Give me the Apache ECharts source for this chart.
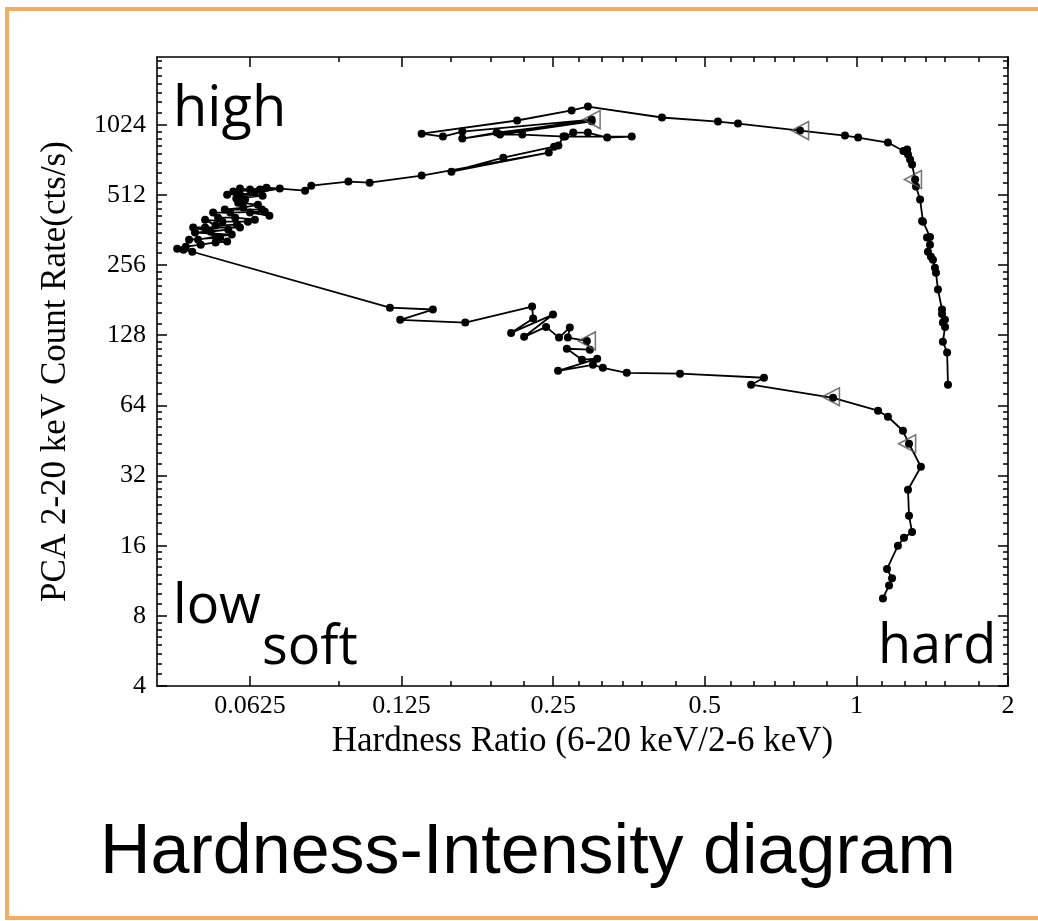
<!DOCTYPE html>
<html>
<head>
<meta charset="utf-8">
<script src="https://cdn.jsdelivr.net/npm/echarts@6/dist/echarts.min.js"></script>
<style>
  html, body { margin: 0; padding: 0; background: #fff; }
  #chart { width: 1038px; height: 921px; }
</style>
</head>
<body>
<div id="chart"></div>
<script>
// ---- data (in the order the track is drawn) ----
const hardness = [
  1.52, 1.514, 1.485, 1.50, 1.485, 1.499, 1.479, 1.479, 1.452, 1.439, 1.432, 1.419, 1.406, 1.387, 1.40, 1.381, 1.40, 1.356, 1.35, 1.338, 1.313, 1.308, 1.29, 1.278, 1.266, 1.261, 1.24, 1.155, 1.008, 0.949, 0.773, 0.582, 0.531, 0.411, 0.293, 0.272, 0.212, 0.137,
  0.151, 0.165, 0.298, 0.165, 0.193, 0.298, 0.196, 0.217, 0.264, 0.274, 0.293, 0.320, 0.358, 0.262, 0.256, 0.251, 0.199, 0.157, 0.245, 0.137, 0.108, 0.098, 0.0827, 0.0804,
  0.0674, 0.0625, 0.0597, 0.0563, 0.0579, 0.0654, 0.0716, 0.0639, 0.0597, 0.0662, 0.0587, 0.0611, 0.0592, 0.0648, 0.0606, 0.0557, 0.0660, 0.0683, 0.0625, 0.0669, 0.0571, 0.0528, 0.0540, 0.0584, 0.0639, 0.0619, 0.0551, 0.0509, 0.0534, 0.0589, 0.0597, 0.0509, 0.0482, 0.0522, 0.0566, 0.0486, 0.0575, 0.0534, 0.0493, 0.0473, 0.0545, 0.0563, 0.0534, 0.0499, 0.0466, 0.0448, 0.0461, 0.0480,
  0.1185, 0.1442, 0.1242, 0.1672, 0.2270, 0.2281, 0.2062, 0.2498, 0.2189, 0.2420, 0.2567, 0.2697, 0.2673, 0.2916, 0.2956, 0.2661, 0.2852, 0.3057, 0.2556, 0.2998, 0.3137, 0.3500, 0.4464, 0.6554, 0.6178, 0.8988, 1.104, 1.155, 1.237, 1.272, 1.343, 1.266, 1.272, 1.290, 1.243, 1.209, 1.150, 1.177, 1.161, 1.129
];
const countRate = [
  78.5, 108, 120, 139, 145, 149, 158, 165, 201, 237, 249, 270, 278, 292, 313, 336, 338, 393, 396, 489, 556, 596, 691, 726, 763, 801, 790, 859, 902, 920, 967, 1036, 1057, 1100, 1226, 1179, 1068, 938,
  911, 957, 1078, 893, 948, 1060, 929, 929, 911, 948, 948, 902, 911, 911, 834, 825, 740, 644, 778, 620, 578, 584, 561, 534,
  550, 540, 545, 513, 529, 540, 545, 524, 513, 508, 494, 489, 474, 465, 452, 443, 443, 417, 430, 434, 430, 430, 409, 409, 401, 393, 393, 401, 378, 382, 371, 371, 371, 356, 363, 353, 346, 339, 329, 329, 336, 323, 320, 313, 307, 301, 298, 292,
  168, 165, 149, 145, 170, 151, 131, 157, 126, 139, 125, 138, 125, 121, 111, 112, 100.5, 101.5, 90, 95.6, 92.8, 88.3, 87.5, 84.1, 78.5, 69, 60.7, 57.2, 49.8, 43.8, 34.9, 27.8, 21.5, 18.3, 17.3, 16.0, 12.7, 11.6, 10.8, 9.5
];
// open triangle markers along the track
const arrowHardness = [0.298, 0.773, 1.295, 0.2916, 0.890, 1.261];
const arrowRate = [1078, 967, 596, 121, 69.7, 43.8];

// axis ticks / labels
const xMajorTicks = [0.0625, 0.125, 0.25, 0.5, 1, 2];
const xMinorTicks = [0.09375, 0.15625, 0.1875, 0.21875,
  0.28125, 0.3125, 0.34375, 0.375, 0.4375,
  0.5625, 0.625, 0.6875, 0.75, 0.875,
  1.125, 1.25, 1.375, 1.5, 1.75];
const yMajorTicks = [4, 8, 16, 32, 64, 128, 256, 512, 1024];
const yMinorTicks = [];
const yMinorFactors = [1.125, 1.25, 1.375, 1.5, 1.625, 1.75, 1.875];
[4, 8, 16, 32, 64, 128, 256, 512, 1024].forEach(b => yMinorFactors.forEach(f => yMinorTicks.push(b * f)));

const xRange = [0.04085, 2];
const yRange = [4, 2000];

const points = hardness.map((h, i) => [h, countRate[i]]);
const arrows = arrowHardness.map((h, i) => [h, arrowRate[i]]);

const fmt = v => String(parseFloat(Number(v).toPrecision(6)));
const serif = '"Liberation Serif", "Times New Roman", serif';
const tickStyle = { color: '#000', width: 1.5 };

function xAx(pos, major, withLabel) {
  return {
    type: 'log', logBase: 2, min: xRange[0], max: xRange[1], position: pos, gridIndex: 0,
    axisLine: { show: major, onZero: false, lineStyle: { color: '#000', width: 1.6 } },
    axisTick: { show: true, inside: true, length: major ? 10 : 5, customValues: major ? xMajorTicks : xMinorTicks, lineStyle: tickStyle },
    axisLabel: withLabel ? { show: true, customValues: xMajorTicks, formatter: fmt, fontFamily: serif, fontSize: 26, color: '#000', margin: 7 } : { show: false },
    splitLine: { show: false },
    minorTick: { show: false },
    name: withLabel ? 'Hardness Ratio (6-20 keV/2-6 keV)' : '',
    nameLocation: 'middle', nameGap: 34,
    nameTextStyle: { fontFamily: serif, fontSize: 35, color: '#000' }
  };
}
function yAx(pos, major, withLabel) {
  return {
    type: 'log', logBase: 2, min: yRange[0], max: yRange[1], position: pos, gridIndex: 0,
    axisLine: { show: major, onZero: false, lineStyle: { color: '#000', width: 1.6 } },
    axisTick: { show: true, inside: true, length: major ? 10 : 5, customValues: major ? yMajorTicks : yMinorTicks, lineStyle: tickStyle },
    axisLabel: withLabel ? { show: true, customValues: yMajorTicks, formatter: fmt, fontFamily: serif, fontSize: 26, color: '#000', margin: 11 } : { show: false },
    splitLine: { show: false },
    minorTick: { show: false },
    name: withLabel ? 'PCA 2-20 keV Count Rate(cts/s)' : '',
    nameLocation: 'middle', nameGap: 84,
    nameTextStyle: { fontFamily: serif, fontSize: 35, color: '#000' }
  };
}

const chart = echarts.init(document.getElementById('chart'), null, { renderer: 'canvas' });
chart.setOption({
  animation: false,
  backgroundColor: '#fff',
  grid: { left: 157, right: 30, top: 57, bottom: 235, containLabel: false },
  xAxis: [xAx('bottom', true, true), xAx('bottom', false, false), xAx('top', true, false), xAx('top', false, false)],
  yAxis: [yAx('left', true, true), yAx('left', false, false), yAx('right', true, false), yAx('right', false, false)],
  series: [
    {
      type: 'line', xAxisIndex: 0, yAxisIndex: 0, data: points,
      symbol: 'circle', symbolSize: 8, showAllSymbol: true,
      lineStyle: { color: '#000', width: 1.8 },
      itemStyle: { color: '#000' },
      z: 3
    },
    {
      type: 'scatter', xAxisIndex: 0, yAxisIndex: 0, data: arrows,
      symbol: 'triangle', symbolSize: [18, 17], symbolRotate: 90,
      itemStyle: { color: 'rgba(255,255,255,0)', borderColor: '#555', borderWidth: 1.6 },
      z: 4
    }
  ],
  graphic: [
    { type: 'rect', shape: { x: 7, y: 9, width: 1100, height: 909 }, style: { fill: 'none', stroke: '#F7AB5F', lineWidth: 4 }, z: 10 },
    { type: 'text', style: { x: 173, y: 110, text: 'high', font: '56px "Open Sans"', fill: '#000', align: 'left', verticalAlign: 'middle' }, z: 10 },
    { type: 'text', style: { x: 173, y: 608, text: 'low', font: '54px "Open Sans"', fill: '#000', align: 'left', verticalAlign: 'middle' }, z: 10 },
    { type: 'text', style: { x: 262, y: 649, text: 'soft', font: '54px "Open Sans"', fill: '#000', align: 'left', verticalAlign: 'middle' }, z: 10 },
    { type: 'text', style: { x: 878, y: 648, text: 'hard', font: '54px "Open Sans"', fill: '#000', align: 'left', verticalAlign: 'middle' }, z: 10 },
    { type: 'text', style: { x: 100, y: 854, text: 'Hardness-Intensity diagram', font: '70px "Liberation Sans"', fill: '#000', align: 'left', verticalAlign: 'middle' }, z: 10 }
  ]
});
</script>
</body>
</html>
